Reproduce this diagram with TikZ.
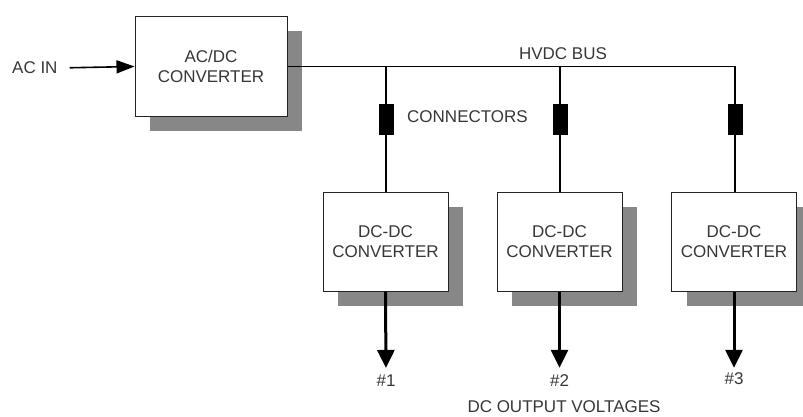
\documentclass[tikz,border=0pt]{standalone}
\usepackage{fontspec}
\setmainfont{Liberation Sans}
\usetikzlibrary{arrows.meta,shadows}
\definecolor{txt}{RGB}{55,55,55}
\definecolor{edge}{RGB}{35,35,35}
\definecolor{shade}{RGB}{135,135,135}
\begin{document}
\begin{tikzpicture}[x=1pt,y=-1pt,
  lbl/.style={inner sep=0pt, text=txt, font=\fontsize{17}{20}\selectfont},
  convbox/.style={draw=edge, line width=1pt, fill=white, align=center, inner sep=0pt,
    text=txt, font=\fontsize{17}{20}\selectfont,
    general shadow={fill=shade, shadow xshift=15pt, shadow yshift=-15pt}},
  acbox/.style={convbox, minimum width=152pt, minimum height=100pt},
  dcbox/.style={convbox, minimum width=125pt, minimum height=99pt},
  conn/.style={fill=black, draw=black, line width=0.5pt, minimum width=14pt, minimum height=30pt, inner sep=0pt},
  wire/.style={draw=black, line width=1.6pt},
  outarrow/.style={draw=black, line width=3pt, -{Triangle[length=18pt,width=17pt]}},
  inarrow/.style={draw=black, line width=1.6pt, -{Triangle[length=18pt,width=13pt]}}]
\useasboundingbox (0,0) rectangle (803,417);

\node[acbox] (acdc) at (211,66.5) {AC/DC\\CONVERTER};
\node[dcbox] (dc1) at (385.5,241.5) {DC-DC\\CONVERTER};
\node[dcbox] (dc2) at (559.5,241.5) {DC-DC\\CONVERTER};
\node[dcbox] (dc3) at (734,241.5) {DC-DC\\CONVERTER};

\node[lbl, anchor=west] (acin) at (12,68) {AC IN};
\node[lbl] (hvdc) at (563,54) {HVDC BUS};
\node[lbl, anchor=west] (conlbl) at (407,117) {CONNECTORS};
\node[lbl] (o1) at (386,381) {\#1};
\node[lbl] (o2) at (559.5,381) {\#2};
\node[lbl] (o3) at (734,379) {\#3};
\node[lbl] (dcout) at (564,406.5) {DC OUTPUT VOLTAGES};

\node[conn] (c1) at (386,119.5) {};
\node[conn] (c2) at (560,119.5) {};
\node[conn] (c3) at (735,119.5) {};

\draw[inarrow, shorten <=12pt] (acin.east) -- (acdc.west);
\draw[wire] (acdc.east) -| (c3.north);
\draw[wire] (c1.north) -- (c1.north |- acdc.east);
\draw[wire] (c2.north) -- (c2.north |- acdc.east);
\draw[wire] (c1.south) -- (c1.south |- dc1.north);
\draw[wire] (c2.south) -- (c2.south |- dc2.north);
\draw[wire] (c3.south) -- (c3.south |- dc3.north);

\draw[outarrow, shorten >=7pt] (dc1.south) -- (o1.north);
\draw[outarrow, shorten >=7pt] (dc2.south) -- (o2.north);
\draw[outarrow, shorten >=5pt] (dc3.south) -- (o3.north);
\end{tikzpicture}
\end{document}
